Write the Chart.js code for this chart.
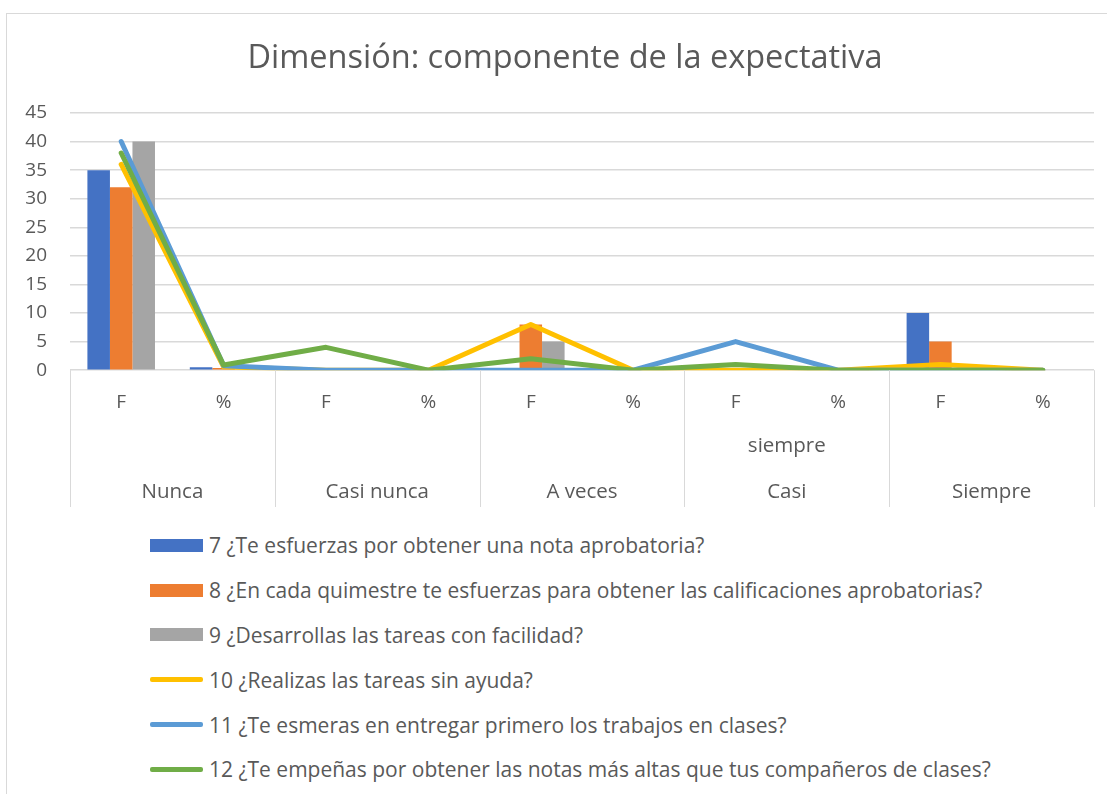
<!DOCTYPE html>
<html>
<head>
<meta charset="utf-8">
<script src="https://cdn.jsdelivr.net/npm/chart.js@4"></script>
<style>
  body { margin: 0; background: #fff; width: 1107px; height: 794px; overflow: hidden; position: relative; font-family: "Open Sans", sans-serif; }
  #frame { position: absolute; left: 6px; top: 13px; width: 1200px; height: 900px; border: 1px solid #d9d9d9; box-sizing: border-box; }
  #wrap { position: absolute; left: 0; top: 0; width: 1131px; height: 520px; }
  #legend { position: absolute; left: 150px; top: 523px; margin: 0; padding: 0; list-style: none; }
  #legend li { height: 44.8px; display: flex; align-items: center; color: #595959; font-size: 21px; white-space: nowrap; }
  #legend .sw { width: 53px; margin-right: 6px; }
</style>
</head>
<body>
<div id="frame"></div>
<div id="wrap"><canvas id="myChart"></canvas></div>
<ul id="legend"></ul>
<script>
// categories and groups
const labels = ["F", "%", "F", "%", "F", "%", "F", "%", "F", "%"];
const groups = [["Nunca"], ["Casi nunca"], ["A veces"], ["siempre", "Casi"], ["Siempre"]];

const names = [
  "7 ¿Te esfuerzas por obtener una nota aprobatoria?",
  "8 ¿En cada quimestre te esfuerzas para obtener las calificaciones aprobatorias?",
  "9 ¿Desarrollas las tareas con facilidad?",
  "10 ¿Realizas las tareas sin ayuda?",
  "11 ¿Te esmeras en entregar primero los trabajos en clases?",
  "12 ¿Te empeñas por obtener las notas más altas que tus compañeros de clases?"
];

// bars
const q7 = [35, 0.5, 0, 0, 0, 0, 0, 0, 10, 0];
const q8 = [32, 0.4, 0, 0, 8, 0, 0, 0, 5, 0];
const q9 = [40, 0, 0, 0, 5, 0, 0, 0, 0, 0];
// lines
const q10 = [36, 0.6, 0, 0, 8, 0, 0, 0, 1, 0];
const q11 = [40, 0.8, 0, 0, 0, 0, 5, 0, 0, 0];
const q12 = [38, 0.9, 4, 0, 2, 0, 1, 0, 0, 0];

const grey = "#595959";
const gridColor = "#d9d9d9";
const fontFam = "'Open Sans'";

// group labels + table lines under the axis
const groupAxis = {
  id: "groupAxis",
  afterDraw(chart) {
    const ctx = chart.ctx;
    const x = chart.scales.x;
    const area = chart.chartArea;
    const step = x.getPixelForValue(1) - x.getPixelForValue(0);
    ctx.save();
    ctx.strokeStyle = gridColor;
    ctx.lineWidth = 1;
    for (let g = 0; g <= groups.length; g++) {
      const px = Math.round(x.getPixelForValue(g * 2) - step / 2) + 0.5;
      ctx.beginPath();
      ctx.moveTo(px, area.bottom);
      ctx.lineTo(px, 507);
      ctx.stroke();
    }
    ctx.fillStyle = grey;
    ctx.font = "20.5px " + fontFam;
    ctx.textAlign = "center";
    ctx.textBaseline = "middle";
    groups.forEach((lines, g) => {
      const cx = (x.getPixelForValue(g * 2) + x.getPixelForValue(g * 2 + 1)) / 2;
      for (let i = 0; i < lines.length; i++) {
        ctx.fillText(lines[lines.length - 1 - i], cx, 492 - i * 46);
      }
    });
    ctx.restore();
  }
};

const barSet = (i, d, c) => ({ type: "bar", label: names[i], data: d, backgroundColor: c, order: 5,
  categoryPercentage: 0.66, barPercentage: 1 });
const lineSet = (i, d, c, o) => ({ type: "line", label: names[i], data: d, borderColor: c, backgroundColor: c,
  borderWidth: 5, pointRadius: 0, tension: 0, order: o, borderCapStyle: "round", borderJoinStyle: "round" });

const data = {
  labels: labels,
  datasets: [
    barSet(0, q7, "#4472C4"),
    barSet(1, q8, "#ED7D31"),
    barSet(2, q9, "#A5A5A5"),
    lineSet(3, q10, "#FFC000", 3),
    lineSet(4, q11, "#5B9BD5", 2),
    lineSet(5, q12, "#70AD47", 1)
  ]
};

const config = {
  type: "bar",
  data,
  options: {
    responsive: true,
    maintainAspectRatio: false,
    animation: false,
    layout: { padding: { left: 12, right: 13, top: 13, bottom: 93 } },
    plugins: {
      legend: { display: false },
      tooltip: { enabled: false },
      title: {
        display: true,
        text: "Dimensión: componente de la expectativa",
        color: grey,
        font: { family: fontFam, size: 32.5, weight: "normal" },
        padding: { top: 26, bottom: 35 }
      }
    },
    scales: {
      x: {
        grid: { display: false },
        border: { display: false },
        ticks: { color: grey, font: { family: fontFam, size: 19 }, padding: 13, maxRotation: 0 }
      },
      y: {
        min: 0,
        max: 45,
        afterFit: s => { s.width = 58; },
        grid: { color: gridColor, lineWidth: 1.5, drawTicks: false },
        border: { display: false },
        ticks: { stepSize: 5, color: grey, font: { family: fontFam, size: 19 }, padding: 23 }
      },
      // empty right margin so the title centres like the original
      yRight: {
        position: "right",
        min: 0,
        max: 45,
        afterFit: s => { s.width = 24; },
        grid: { drawOnChartArea: false, drawTicks: false, display: false },
        border: { display: false },
        ticks: { display: false }
      }
    }
  },
  plugins: [groupAxis]
};

var myChart = new Chart(document.getElementById("myChart"), config);

// legend in a column, like the original
const ul = document.getElementById("legend");
myChart.data.datasets.forEach(ds => {
  const li = document.createElement("li");
  const sw = document.createElement("span");
  sw.className = "sw";
  if (ds.type === "bar") {
    sw.style.height = "13px";
    sw.style.background = ds.backgroundColor;
  } else {
    sw.style.height = "5px";
    sw.style.borderRadius = "2px";
    sw.style.background = ds.borderColor;
  }
  li.appendChild(sw);
  li.appendChild(document.createTextNode(ds.label));
  ul.appendChild(li);
});
</script>
</body>
</html>
